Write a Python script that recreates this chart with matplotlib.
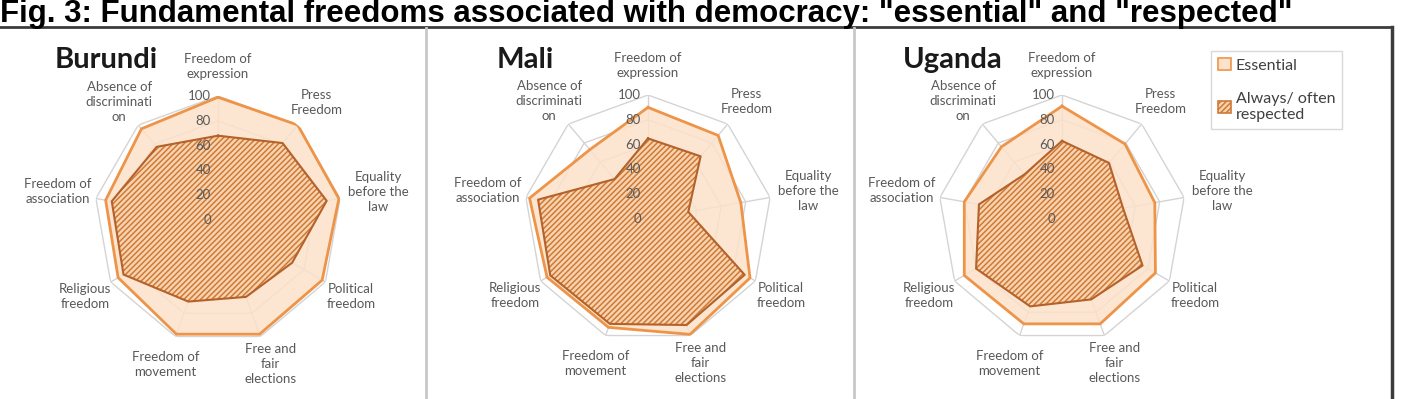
import numpy as np
import matplotlib
matplotlib.use("Agg")
import matplotlib.pyplot as plt
from matplotlib.patches import Patch
from matplotlib.lines import Line2D

# categories, clockwise from the top
categories = ["Freedom of\nexpression", "Press\nFreedom", "Equality\nbefore the\nlaw",
              "Political\nfreedom", "Free and\nfair\nelections", "Freedom of\nmovement",
              "Religious\nfreedom", "Freedom of\nassociation", "Absence of\ndiscriminati\non"]
ticks = [0, 20, 40, 60, 80, 100]

countries = ["Burundi", "Mali", "Uganda"]
burundi_essential = [99, 100, 99, 97, 98, 98, 93, 92, 96]
burundi_respected = [68, 81, 89, 69, 66, 70, 88, 87, 77]
mali_essential = [90, 88, 76, 95, 99, 93, 94, 97, 73]
mali_respected = [65, 66, 33, 90, 91, 90, 91, 90, 42]
uganda_essential = [91, 79, 76, 87, 90, 90, 91, 80, 76]
uganda_respected = [63, 59, 50, 75, 69, 75, 80, 68, 47]

essential = [burundi_essential, mali_essential, uganda_essential]
respected = [burundi_respected, mali_respected, uganda_respected]

ess_face = "#FCE2CA"
ess_edge = "#EE9448"
res_face = "#F7D3B0"
res_hatch = "#CF7A36"
res_edge = "#B5622A"
grid_col = "#D4D4D4"
txt_col = "#595959"

plt.rcParams["font.family"] = ["Lato", "DejaVu Sans"]
plt.rcParams["hatch.linewidth"] = 1.1

W, H = 1403, 399
fig = plt.figure(figsize=(W / 100, H / 100), dpi=100)

# title
fig.text(0.0, 1 - 22 / H, 'Fig. 3: Fundamental freedoms associated with democracy: "essential" and "respected"',
         fontsize=22.5, fontweight="bold", family="Liberation Sans", va="baseline", ha="left", color="black")

# frame and panel dividers
fig.add_artist(Line2D([0, 1392 / W], [1 - 27 / H, 1 - 27 / H], color="#3C3C3C", lw=2))
fig.add_artist(Line2D([1392 / W, 1392 / W], [0, 1 - 27 / H], color="#3C3C3C", lw=2.5))
for xd in [426, 854]:
    fig.add_artist(Line2D([xd / W, xd / W], [0, 1 - 28 / H], color="#C8C8C8", lw=2))

centers = [(218, 220), (648, 219), (1062, 219)]
rad = 124
name_pos = [(55, 60), (497, 60), (903, 60)]

theta = np.linspace(0, 2 * np.pi, len(categories), endpoint=False)
tclose = np.append(theta, theta[0])

for i, name in enumerate(countries):
    cx, cy = centers[i]
    ax = fig.add_axes([(cx - rad) / W, (H - cy - rad) / H, 2 * rad / W, 2 * rad / H],
                      projection="polar")
    ax.set_theta_zero_location("N")
    ax.set_theta_direction(-1)
    ax.set_ylim(0, 100)
    ax.grid(False)
    ax.spines["polar"].set_visible(False)
    ax.set_xticks([])
    ax.set_yticks([])
    ax.patch.set_alpha(0)

    # polygon gridlines
    for t in ticks[1:]:
        ax.plot(tclose, [t] * len(tclose), color=grid_col, lw=1.0, zorder=1)
    for th in theta:
        ax.plot([th, th], [0, 100], color=grid_col, lw=1.0, zorder=1)

    e = np.append(essential[i], essential[i][0])
    r = np.append(respected[i], respected[i][0])
    ax.fill(tclose, e, facecolor=ess_face, edgecolor="none", alpha=0.85, zorder=2)
    ax.plot(tclose, e, color=ess_edge, lw=2.0, zorder=4)
    ax.fill(tclose, r, facecolor=res_face, edgecolor=res_hatch, hatch="//////", lw=0, zorder=3)
    ax.plot(tclose, r, color=res_edge, lw=1.5, zorder=4)

    # radial tick labels
    for t in ticks:
        ax.annotate(str(t), xy=(0, t), xytext=(-5, 0), textcoords="offset points",
                    ha="right", va="center", fontsize=9.5, color=txt_col, zorder=5)

    # category labels
    for th, lab in zip(theta, categories):
        d = 124
        if lab.startswith("Equality") or lab.endswith("association"):
            d = 131
        ax.text(th, d, lab, ha="center", va="center", fontsize=9.5, color=txt_col,
                linespacing=1.3)

    fig.text(name_pos[i][0] / W, 1 - name_pos[i][1] / H, name, fontsize=21,
             fontweight="bold", ha="left", va="center", color="#1A1A1A")

    if i == 2:
        handles = [Patch(facecolor=ess_face, edgecolor=ess_edge, lw=1.2),
                   Patch(facecolor=res_face, edgecolor=res_hatch, hatch="//////", lw=1.2)]
        leg = fig.legend(handles, ["Essential", "Always/ often\nrespected"],
                         loc="upper left", bbox_to_anchor=(1203 / W, 1 - 43 / H),
                         fontsize=11.5, frameon=True, fancybox=False, labelspacing=1.2,
                         handlelength=0.8, handleheight=0.8, handletextpad=0.3,
                         borderpad=0.45, labelcolor="#404040")
        leg.get_frame().set_edgecolor("#D0D0D0")
        leg.get_frame().set_linewidth(1.0)

fig.savefig("out.png", dpi=100)
